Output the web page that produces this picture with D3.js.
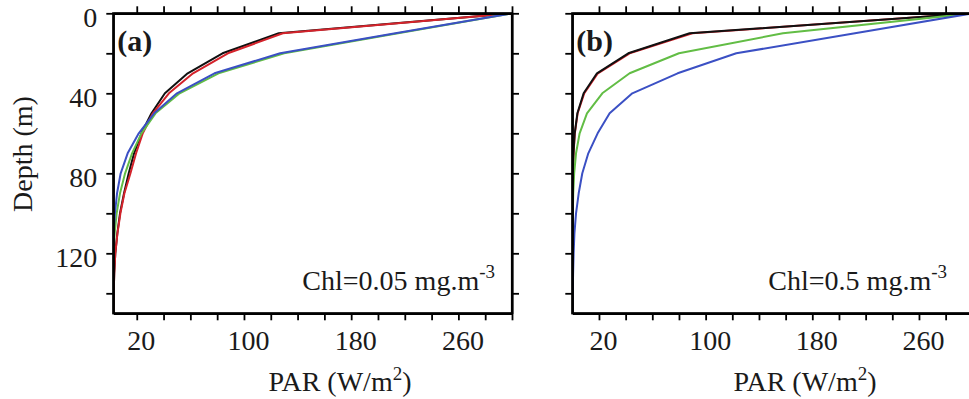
<!DOCTYPE html>
<html>
<head>
<meta charset="utf-8">
<script src="https://cdn.jsdelivr.net/npm/d3@7"></script>
</head>
<body style="margin:0">
<svg id="chart" width="969" height="399" style="display:block"></svg>
<script>
// ---- data ----
const depths = [0, 10, 20, 30, 40, 50, 60, 70, 80, 90, 100, 110, 120, 130, 140, 150];

// Panel (a): Chl = 0.05 mg.m-3
const aBlack = [300, 126, 84, 58, 41, 31, 23.5, 18, 14, 10.5, 7.5, 5.5, 4, 3.2, 2.8, 2.5];
const aRed   = [300, 129, 88, 62, 44, 32, 24.5, 19.5, 15.3, 10.8, 7.8, 5.6, 4, 3.2, 2.8, 2.5];
const aGreen = [300, 215, 130, 81, 52, 34, 23.5, 16.5, 11.3, 7.5, 5, 3.5, 2.5, 2, 1.7, 1.4];
const aBlue  = [300, 213, 127, 78, 50, 33, 21.5, 13.2, 8, 5.3, 3.7, 2.7, 2.2, 1.8, 1.5, 1.2];

// Panel (b): Chl = 0.5 mg.m-3
const bBlack = [300, 88, 42, 18.5, 8.5, 3.8, 1.8, 0.9, 0.45, 0.2, 0.1, 0.05, 0, 0, 0, 0];
const bRed   = [300, 90, 43, 19.2, 9, 4, 1.9, 0.95, 0.5, 0.25, 0.1, 0.05, 0, 0, 0, 0];
const bGreen = [300, 158, 80, 43, 22.5, 11, 5.5, 2.8, 1.4, 0.7, 0.4, 0.2, 0.1, 0.05, 0, 0];
const bBlue  = [300, 212, 123, 79, 45, 28, 19, 12, 7.5, 4.8, 2.8, 1.6, 1, 0.6, 0.35, 0.2];

const seriesColors = ["#111111", "#d4232b", "#62bd45", "#3b50c4"];
const xTickValues = [20, 40, 60, 80, 100, 120, 140, 160, 180, 200, 220, 240, 260, 280, 300];
const xTickLabels = [20, 100, 180, 260];
const yTickValues = [0, 20, 40, 60, 80, 100, 120, 140];
const yTickLabels = [0, 40, 80, 120];

const panels = [
  { id: "a", label: "(a)", chl: "Chl=0.05 mg.m", xDomain: [2.5, 300], x0: 113.3, x1: 512,
    series: [aBlack, aRed, aGreen, aBlue], order: [0, 1, 2, 3], yLabels: true, chlEnd: 495, parX: 340 },
  { id: "b", label: "(b)", chl: "Chl=0.5 mg.m", xDomain: [0, 300], x0: 572.3, x1: 972.3,
    series: [bBlack, bRed, bGreen, bBlue], order: [1, 0, 2, 3], yLabels: false, chlEnd: 947, parX: 805 }
];

const FONT = "Liberation Serif";
const TXT = "#1a1a1a";
const svg = d3.select("#chart");
const yTop = 13.3, yBot = 313.3;
const FS = 28;

function serif(sel) {
  return sel.attr("font-family", FONT).style("font-family", FONT, "important");
}

panels.forEach((p) => {
  const x = d3.scaleLinear().domain(p.xDomain).range([p.x0, p.x1]);
  const y = d3.scaleLinear().domain([0, 150]).range([yTop, yBot]);

  const clipId = "clip-" + p.id;
  svg.append("clipPath").attr("id", clipId)
    .append("rect").attr("x", p.x0).attr("y", yTop)
    .attr("width", p.x1 - p.x0).attr("height", yBot - yTop);

  const line = d3.line()
    .x(d => x(d[0]))
    .y(d => y(d[1]));

  const g = svg.append("g").attr("clip-path", `url(#${clipId})`);
  p.order.forEach(i => {
    const vals = p.series[i];
    g.append("path")
      .datum(vals.map((v, k) => [v, depths[k]]))
      .attr("d", line)
      .attr("fill", "none")
      .attr("stroke", seriesColors[i])
      .attr("stroke-width", 2)
      .attr("stroke-linejoin", "round");
  });

  const fmtX = d => xTickLabels.includes(d) ? d : "";
  const fmtY = d => yTickLabels.includes(d) ? d : "";

  const gb = svg.append("g").attr("transform", `translate(0,${yBot})`)
    .call(d3.axisBottom(x).tickValues(xTickValues).tickFormat(fmtX).tickSize(7).tickSizeOuter(0).tickPadding(10));
  const gt = svg.append("g").attr("transform", `translate(0,${yTop})`)
    .call(d3.axisTop(x).tickValues(xTickValues).tickFormat("").tickSize(7).tickSizeOuter(0));
  const gl = svg.append("g").attr("transform", `translate(${p.x0},0)`)
    .call(d3.axisLeft(y).tickValues(yTickValues).tickFormat(p.yLabels ? fmtY : "").tickSize(7).tickSizeOuter(0).tickPadding(9));
  const gr = svg.append("g").attr("transform", `translate(${p.x1},0)`)
    .call(d3.axisRight(y).tickValues(yTickValues).tickFormat("").tickSize(7).tickSizeOuter(0));

  [gb, gt, gl, gr].forEach(ax => {
    serif(ax).attr("font-size", FS);
    ax.select(".domain").attr("stroke", "#000").attr("stroke-width", 2.2);
    ax.selectAll(".tick line").attr("stroke", "#000").attr("stroke-width", 1.8);
    serif(ax.selectAll(".tick text")).attr("font-size", FS).attr("fill", TXT);
  });
  gb.selectAll(".tick text").attr("dx", 4);
  gl.selectAll(".tick text").attr("dy", "0.46em");
  svg.append("rect").attr("x", p.x0).attr("y", yTop).attr("width", p.x1 - p.x0)
    .attr("height", yBot - yTop).attr("fill", "none").attr("stroke", "#000").attr("stroke-width", 2.2);

  serif(svg.append("text")).attr("x", p.x0 + 4).attr("y", 51)
    .attr("fill", TXT)
    .attr("font-size", 30).attr("font-weight", "bold").text(p.label);

  const t = serif(svg.append("text")).attr("x", p.chlEnd).attr("y", 290)
    .attr("fill", TXT)
    .attr("text-anchor", "end").attr("font-size", FS);
  t.append("tspan").text(p.chl);
  t.append("tspan").attr("dy", -12).attr("font-size", 19).text("-3");

  const xt = serif(svg.append("text")).attr("x", p.parX).attr("y", 391)
    .attr("fill", TXT)
    .attr("text-anchor", "middle").attr("font-size", FS);
  xt.append("tspan").text("PAR (W/m");
  xt.append("tspan").attr("dy", -11).attr("font-size", 19).text("2");
  xt.append("tspan").attr("dy", 11).text(")");
});

serif(svg.append("text"))
  .attr("transform", "translate(32,154) rotate(-90)")
  .attr("fill", TXT)
  .attr("text-anchor", "middle")
  .attr("font-size", FS)
  .text("Depth (m)");
</script>
</body>
</html>
